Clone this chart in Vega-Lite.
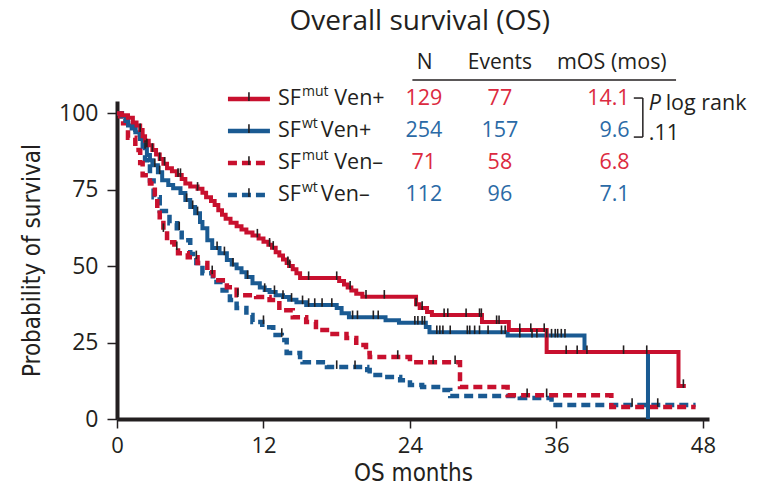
{
  "$schema": "https://vega.github.io/schema/vega-lite/v6.json",
  "width": 592,
  "height": 318,
  "autosize": {"type": "none"},
  "padding": {"left": 117, "top": 101, "right": 52, "bottom": 77},
  "background": "white",
  "config": {"view": {"stroke": null}, "font": "Open Sans"},
  "datasets": {
    "curves": [
      {"g":"mutVp","m":0,"p":100},{"g":"mutVp","m":0.4,"p":99.3},{"g":"mutVp","m":0.9,"p":98.5},{"g":"mutVp","m":1.3,"p":97},{"g":"mutVp","m":1.6,"p":96},{"g":"mutVp","m":1.9,"p":94.5},{"g":"mutVp","m":2.1,"p":92.5},{"g":"mutVp","m":2.3,"p":91},{"g":"mutVp","m":2.6,"p":89.5},{"g":"mutVp","m":2.9,"p":88},{"g":"mutVp","m":3.2,"p":86.5},{"g":"mutVp","m":3.5,"p":85},{"g":"mutVp","m":3.8,"p":83.5},{"g":"mutVp","m":4.1,"p":82},{"g":"mutVp","m":4.5,"p":81},{"g":"mutVp","m":4.9,"p":79.8},{"g":"mutVp","m":5.3,"p":78.5},{"g":"mutVp","m":5.6,"p":77},{"g":"mutVp","m":6.0,"p":76},{"g":"mutVp","m":6.6,"p":75.3},{"g":"mutVp","m":7.0,"p":74},{"g":"mutVp","m":7.3,"p":72.5},{"g":"mutVp","m":7.7,"p":71.3},{"g":"mutVp","m":8.0,"p":70},{"g":"mutVp","m":8.3,"p":68.3},{"g":"mutVp","m":8.6,"p":66.8},{"g":"mutVp","m":8.9,"p":65.5},{"g":"mutVp","m":9.3,"p":64.2},{"g":"mutVp","m":9.8,"p":63},{"g":"mutVp","m":10.2,"p":62},{"g":"mutVp","m":10.6,"p":61},{"g":"mutVp","m":11.1,"p":60},{"g":"mutVp","m":11.6,"p":59},{"g":"mutVp","m":12.0,"p":58},{"g":"mutVp","m":12.4,"p":57},{"g":"mutVp","m":12.7,"p":56},{"g":"mutVp","m":13.0,"p":54.5},{"g":"mutVp","m":13.3,"p":53.5},{"g":"mutVp","m":13.6,"p":52.2},{"g":"mutVp","m":13.9,"p":51},{"g":"mutVp","m":14.1,"p":50},{"g":"mutVp","m":14.4,"p":49},{"g":"mutVp","m":14.7,"p":47.7},{"g":"mutVp","m":15.0,"p":46.1},{"g":"mutVp","m":18.2,"p":45.1},{"g":"mutVp","m":18.6,"p":44},{"g":"mutVp","m":18.9,"p":43},{"g":"mutVp","m":19.2,"p":42},{"g":"mutVp","m":19.6,"p":41},{"g":"mutVp","m":20.1,"p":40},{"g":"mutVp","m":24.5,"p":37.5},{"g":"mutVp","m":24.8,"p":36.3},{"g":"mutVp","m":25.4,"p":35},{"g":"mutVp","m":25.8,"p":34},{"g":"mutVp","m":29.9,"p":31.7},{"g":"mutVp","m":32.1,"p":29.1},{"g":"mutVp","m":35.2,"p":21.9},{"g":"mutVp","m":46.0,"p":10.8},{"g":"mutVp","m":46.6,"p":10.8},
      {"g":"wtVp","m":0,"p":100},{"g":"wtVp","m":0.4,"p":99},{"g":"wtVp","m":0.7,"p":97.5},{"g":"wtVp","m":0.9,"p":96},{"g":"wtVp","m":1.2,"p":95},{"g":"wtVp","m":1.5,"p":93.8},{"g":"wtVp","m":1.9,"p":91.8},{"g":"wtVp","m":2.1,"p":89},{"g":"wtVp","m":2.45,"p":86.3},{"g":"wtVp","m":2.7,"p":84.6},{"g":"wtVp","m":2.9,"p":83},{"g":"wtVp","m":3.35,"p":80.7},{"g":"wtVp","m":3.7,"p":78.1},{"g":"wtVp","m":4.2,"p":76.5},{"g":"wtVp","m":4.6,"p":75.5},{"g":"wtVp","m":5.2,"p":73.9},{"g":"wtVp","m":5.6,"p":71.6},{"g":"wtVp","m":6.0,"p":69.3},{"g":"wtVp","m":6.4,"p":67.3},{"g":"wtVp","m":6.8,"p":64.4},{"g":"wtVp","m":7.0,"p":62.4},{"g":"wtVp","m":7.4,"p":58.5},{"g":"wtVp","m":7.8,"p":55.9},{"g":"wtVp","m":8.4,"p":54.2},{"g":"wtVp","m":9.0,"p":52},{"g":"wtVp","m":9.4,"p":50.5},{"g":"wtVp","m":9.8,"p":49.3},{"g":"wtVp","m":10.2,"p":48},{"g":"wtVp","m":10.6,"p":46.4},{"g":"wtVp","m":11.1,"p":44.4},{"g":"wtVp","m":11.7,"p":43},{"g":"wtVp","m":12.1,"p":42.2},{"g":"wtVp","m":12.5,"p":41.5},{"g":"wtVp","m":13.0,"p":40.5},{"g":"wtVp","m":13.6,"p":39.9},{"g":"wtVp","m":14.1,"p":39},{"g":"wtVp","m":14.7,"p":38.2},{"g":"wtVp","m":15.5,"p":37.3},{"g":"wtVp","m":18.0,"p":36.3},{"g":"wtVp","m":18.4,"p":34.6},{"g":"wtVp","m":19.0,"p":33.3},{"g":"wtVp","m":22.0,"p":32.3},{"g":"wtVp","m":23.1,"p":31.5},{"g":"wtVp","m":25.3,"p":30.1},{"g":"wtVp","m":25.6,"p":28.4},{"g":"wtVp","m":32.0,"p":27.3},{"g":"wtVp","m":38.3,"p":21.9},{"g":"wtVp","m":43.5,"p":0},
      {"g":"mutVm","m":0,"p":100},{"g":"mutVm","m":0.25,"p":99},{"g":"mutVm","m":0.5,"p":96.7},{"g":"mutVm","m":0.9,"p":92},{"g":"mutVm","m":1.5,"p":88},{"g":"mutVm","m":1.9,"p":83.7},{"g":"mutVm","m":2.1,"p":79.7},{"g":"mutVm","m":2.7,"p":77},{"g":"mutVm","m":3.1,"p":72.5},{"g":"mutVm","m":3.3,"p":68.3},{"g":"mutVm","m":3.5,"p":66},{"g":"mutVm","m":3.8,"p":61.8},{"g":"mutVm","m":4.1,"p":57.8},{"g":"mutVm","m":4.7,"p":55.9},{"g":"mutVm","m":5.0,"p":54.2},{"g":"mutVm","m":5.8,"p":52.9},{"g":"mutVm","m":6.6,"p":51},{"g":"mutVm","m":7.4,"p":48},{"g":"mutVm","m":7.9,"p":45.4},{"g":"mutVm","m":9.0,"p":43.1},{"g":"mutVm","m":9.8,"p":40.5},{"g":"mutVm","m":11.4,"p":39.9},{"g":"mutVm","m":12.5,"p":38.9},{"g":"mutVm","m":13.3,"p":35.6},{"g":"mutVm","m":14.4,"p":33.3},{"g":"mutVm","m":15.5,"p":31.7},{"g":"mutVm","m":16.3,"p":29.1},{"g":"mutVm","m":17.2,"p":27.8},{"g":"mutVm","m":18.8,"p":26.5},{"g":"mutVm","m":19.6,"p":24.2},{"g":"mutVm","m":20.4,"p":21.6},{"g":"mutVm","m":20.7,"p":20.3},{"g":"mutVm","m":24.0,"p":18.6},{"g":"mutVm","m":28.1,"p":10.5},{"g":"mutVm","m":32.0,"p":7.8},{"g":"mutVm","m":40.5,"p":3.9},{"g":"mutVm","m":47.4,"p":3.9},
      {"g":"wtVm","m":0,"p":100},{"g":"wtVm","m":0.4,"p":99},{"g":"wtVm","m":0.7,"p":97},{"g":"wtVm","m":0.9,"p":96},{"g":"wtVm","m":1.5,"p":93},{"g":"wtVm","m":1.9,"p":89.5},{"g":"wtVm","m":2.3,"p":84.6},{"g":"wtVm","m":2.7,"p":78},{"g":"wtVm","m":3.0,"p":72.5},{"g":"wtVm","m":3.5,"p":68},{"g":"wtVm","m":4.3,"p":64},{"g":"wtVm","m":4.9,"p":62.4},{"g":"wtVm","m":5.3,"p":58.5},{"g":"wtVm","m":6.0,"p":54},{"g":"wtVm","m":6.5,"p":51},{"g":"wtVm","m":7.0,"p":47.7},{"g":"wtVm","m":7.85,"p":44.8},{"g":"wtVm","m":8.65,"p":42},{"g":"wtVm","m":9.25,"p":38.9},{"g":"wtVm","m":9.8,"p":36.3},{"g":"wtVm","m":10.6,"p":34},{"g":"wtVm","m":11.1,"p":31.7},{"g":"wtVm","m":11.9,"p":30},{"g":"wtVm","m":12.8,"p":27.5},{"g":"wtVm","m":13.5,"p":25.8},{"g":"wtVm","m":13.9,"p":21.6},{"g":"wtVm","m":15.0,"p":20.3},{"g":"wtVm","m":15.2,"p":18.6},{"g":"wtVm","m":17.2,"p":17},{"g":"wtVm","m":20.5,"p":16},{"g":"wtVm","m":20.7,"p":14.4},{"g":"wtVm","m":21.8,"p":13.7},{"g":"wtVm","m":23.2,"p":12.7},{"g":"wtVm","m":24.0,"p":11.1},{"g":"wtVm","m":25.0,"p":10.5},{"g":"wtVm","m":26.3,"p":9.5},{"g":"wtVm","m":27.3,"p":7.5},{"g":"wtVm","m":33.0,"p":6.9},{"g":"wtVm","m":35.6,"p":4.6},{"g":"wtVm","m":47.4,"p":4.6}
    ],
    "censor": [
      {"g":"mutVp","m":1.9,"p":94.5},{"g":"mutVp","m":2.45,"p":89.5},{"g":"mutVp","m":2.9,"p":88},{"g":"mutVp","m":3.5,"p":85},{"g":"mutVp","m":3.9,"p":83.5},{"g":"mutVp","m":5.0,"p":79.8},{"g":"mutVp","m":5.2,"p":79.8},{"g":"mutVp","m":6.6,"p":75.3},{"g":"mutVp","m":11.5,"p":60},{"g":"mutVp","m":12.5,"p":57},{"g":"mutVp","m":12.8,"p":56},{"g":"mutVp","m":14.0,"p":51},{"g":"mutVp","m":14.15,"p":50},{"g":"mutVp","m":15.7,"p":46.1},{"g":"mutVp","m":18.0,"p":46.1},{"g":"mutVp","m":19.1,"p":43},{"g":"mutVp","m":20.4,"p":40},{"g":"mutVp","m":21.9,"p":40},{"g":"mutVp","m":24.5,"p":37.5},{"g":"mutVp","m":25.0,"p":36.3},{"g":"mutVp","m":26.8,"p":34},{"g":"mutVp","m":27.1,"p":34},{"g":"mutVp","m":28.6,"p":34},{"g":"mutVp","m":29.7,"p":34},{"g":"mutVp","m":29.85,"p":34},{"g":"mutVp","m":31.1,"p":31.7},{"g":"mutVp","m":31.3,"p":31.7},{"g":"mutVp","m":33.0,"p":29.1},{"g":"mutVp","m":33.9,"p":29.1},{"g":"mutVp","m":35.0,"p":29.1},{"g":"mutVp","m":36.8,"p":21.9},{"g":"mutVp","m":37.7,"p":21.9},{"g":"mutVp","m":41.5,"p":21.9},{"g":"mutVp","m":43.4,"p":21.9},{"g":"mutVp","m":46.4,"p":10.8},
      {"g":"wtVp","m":2.3,"p":89},{"g":"wtVp","m":3.1,"p":83},{"g":"wtVp","m":3.5,"p":80.7},{"g":"wtVp","m":5.7,"p":71.6},{"g":"wtVp","m":6.2,"p":69.3},{"g":"wtVp","m":6.6,"p":67.3},{"g":"wtVp","m":8.2,"p":55.9},{"g":"wtVp","m":8.8,"p":54.2},{"g":"wtVp","m":9.5,"p":50.5},{"g":"wtVp","m":10.7,"p":46.4},{"g":"wtVp","m":12.1,"p":42.2},{"g":"wtVp","m":12.9,"p":41.5},{"g":"wtVp","m":13.6,"p":39.9},{"g":"wtVp","m":14.3,"p":39},{"g":"wtVp","m":15.2,"p":38.2},{"g":"wtVp","m":15.7,"p":37.3},{"g":"wtVp","m":16.2,"p":37.3},{"g":"wtVp","m":16.8,"p":37.3},{"g":"wtVp","m":17.6,"p":37.3},{"g":"wtVp","m":19.3,"p":33.3},{"g":"wtVp","m":19.7,"p":33.3},{"g":"wtVp","m":21.0,"p":33.3},{"g":"wtVp","m":21.4,"p":33.3},{"g":"wtVp","m":24.4,"p":31.5},{"g":"wtVp","m":24.65,"p":31.5},{"g":"wtVp","m":25.0,"p":31.5},{"g":"wtVp","m":25.2,"p":31.5},{"g":"wtVp","m":26.2,"p":28.4},{"g":"wtVp","m":26.45,"p":28.4},{"g":"wtVp","m":26.7,"p":28.4},{"g":"wtVp","m":27.3,"p":28.4},{"g":"wtVp","m":28.7,"p":28.4},{"g":"wtVp","m":28.9,"p":28.4},{"g":"wtVp","m":29.3,"p":28.4},{"g":"wtVp","m":29.7,"p":28.4},{"g":"wtVp","m":30.4,"p":28.4},{"g":"wtVp","m":31.5,"p":28.4},{"g":"wtVp","m":31.8,"p":28.4},{"g":"wtVp","m":33.0,"p":27.3},{"g":"wtVp","m":34.0,"p":27.3},{"g":"wtVp","m":34.4,"p":27.3},{"g":"wtVp","m":35.2,"p":27.3},{"g":"wtVp","m":35.6,"p":27.3},{"g":"wtVp","m":35.9,"p":27.3},{"g":"wtVp","m":36.1,"p":27.3},{"g":"wtVp","m":36.4,"p":27.3},{"g":"wtVp","m":36.7,"p":27.3},{"g":"wtVp","m":38.5,"p":21.9},
      {"g":"mutVm","m":3.8,"p":61.8},{"g":"mutVm","m":4.9,"p":55.9},{"g":"mutVm","m":6.5,"p":52.9},{"g":"mutVm","m":7.8,"p":48},{"g":"mutVm","m":9.9,"p":40.5},{"g":"mutVm","m":23.0,"p":20.3},{"g":"mutVm","m":25.9,"p":18.6},{"g":"mutVm","m":27.7,"p":18.6},{"g":"mutVm","m":33.6,"p":7.8},{"g":"mutVm","m":35.2,"p":7.8},
      {"g":"wtVm","m":5.1,"p":62.4},{"g":"wtVm","m":12.0,"p":31.7},{"g":"wtVm","m":13.5,"p":27.5},{"g":"wtVm","m":18.0,"p":17},{"g":"wtVm","m":19.5,"p":17},{"g":"wtVm","m":42.2,"p":4.6},{"g":"wtVm","m":44.3,"p":4.6}
    ],
    "legend": [
      {"row":1,"g":"mutVp","sup":"mut","trt":"Ven+","n":129,"ev":77,"mos":"14.1"},
      {"row":2,"g":"wtVp","sup":"wt","trt":"Ven+","n":254,"ev":157,"mos":"9.6"},
      {"row":3,"g":"mutVm","sup":"mut","trt":"Ven–","n":71,"ev":58,"mos":"6.8"},
      {"row":4,"g":"wtVm","sup":"wt","trt":"Ven–","n":112,"ev":96,"mos":"7.1"}
    ],
    "one": [{}]
  },
  "layer": [
    {
      "data": {"name": "curves"},
      "layer": [
        {
          "transform": [{"filter": "datum.g === 'wtVm'"}],
          "mark": {"type": "line", "interpolate": "step-after", "strokeWidth": 4.5, "strokeCap": "butt"},
          "encoding": {
            "x": {"field": "m", "type": "quantitative", "scale": {"domain": [0, 48.5], "nice": false},
              "axis": {"values": [0, 12, 24, 36, 48], "title": "OS months", "grid": false, "labelFlush": false, "domainColor": "#231f20", "domainWidth": 4, "tickColor": "#231f20", "tickWidth": 1.5, "tickSize": 9, "labelFontSize": 22, "labelPadding": 7, "labelColor": "#231f20", "titleFont": "DejaVu Sans Condensed, Roboto", "titleFontSize": 24, "titleFontWeight": "normal", "titleColor": "#231f20", "titlePadding": 5}},
            "y": {"field": "p", "type": "quantitative", "scale": {"domain": [0, 104], "nice": false},
              "axis": {"values": [0, 25, 50, 75, 100], "title": "Probability of survival", "grid": false, "labelFlush": false, "domainColor": "#231f20", "domainWidth": 4, "tickColor": "#231f20", "tickWidth": 1.5, "tickSize": 10, "labelFontSize": 23, "labelPadding": 9, "labelColor": "#231f20", "titleFont": "DejaVu Sans Condensed, Roboto", "titleFontSize": 24, "titleFontWeight": "normal", "titleColor": "#231f20", "titlePadding": 14}},
            "stroke": {"field": "g", "type": "nominal", "scale": {"domain": ["mutVp", "wtVp", "mutVm", "wtVm"], "range": ["#c8102e", "#1a5a92", "#c8102e", "#1a5a92"]}, "legend": null},
            "strokeDash": {"field": "g", "type": "nominal", "scale": {"domain": ["mutVp", "wtVp", "mutVm", "wtVm"], "range": [[1, 0], [1, 0], [9, 5], [9, 5]]}, "legend": null}
          }
        },
        {
          "transform": [{"filter": "datum.g === 'mutVm'"}],
          "mark": {"type": "line", "interpolate": "step-after", "strokeWidth": 4.5, "strokeCap": "butt"},
          "encoding": {
            "x": {"field": "m", "type": "quantitative"},
            "y": {"field": "p", "type": "quantitative"},
            "stroke": {"field": "g", "type": "nominal", "legend": null},
            "strokeDash": {"field": "g", "type": "nominal", "legend": null}
          }
        },
        {
          "transform": [{"filter": "datum.g === 'wtVp'"}],
          "mark": {"type": "line", "interpolate": "step-after", "strokeWidth": 4, "strokeCap": "butt"},
          "encoding": {
            "x": {"field": "m", "type": "quantitative"},
            "y": {"field": "p", "type": "quantitative"},
            "stroke": {"field": "g", "type": "nominal", "legend": null},
            "strokeDash": {"field": "g", "type": "nominal", "legend": null}
          }
        },
        {
          "transform": [{"filter": "datum.g === 'mutVp'"}],
          "mark": {"type": "line", "interpolate": "step-after", "strokeWidth": 4, "strokeCap": "butt"},
          "encoding": {
            "x": {"field": "m", "type": "quantitative"},
            "y": {"field": "p", "type": "quantitative"},
            "stroke": {"field": "g", "type": "nominal", "legend": null},
            "strokeDash": {"field": "g", "type": "nominal", "legend": null}
          }
        },
        {
          "data": {"name": "censor"},
          "mark": {"type": "point", "shape": "M0,-1.4V0.4", "filled": false, "stroke": "#231f20", "strokeWidth": 1.6, "size": 90, "opacity": 1},
          "encoding": {
            "x": {"field": "m", "type": "quantitative"},
            "y": {"field": "p", "type": "quantitative"}
          }
        }
      ]
    },
    {
      "data": {"name": "legend"},
      "layer": [
        {
          "data": {"name": "one"},
          "mark": {"type": "text", "text": "Overall survival (OS)", "align": "center", "baseline": "middle", "fontSize": 28, "fill": "#231f20"},
          "encoding": {
            "x": {"datum": 24.8, "type": "quantitative"},
            "y": {"datum": -1.41, "type": "quantitative", "scale": {"domain": [1.0625, 11], "reverse": true, "nice": false, "zero": false}, "axis": null}
          }
        },
        {
          "data": {"name": "one"},
          "mark": {"type": "text", "text": "N", "align": "center", "baseline": "middle", "fontSize": 21, "fill": "#231f20"},
          "encoding": {"x": {"datum": 25.2, "type": "quantitative"}, "y": {"datum": -0.11, "type": "quantitative", "axis": null}}
        },
        {
          "data": {"name": "one"},
          "mark": {"type": "text", "text": "Events", "align": "center", "baseline": "middle", "fontSize": 21, "fill": "#231f20"},
          "encoding": {"x": {"datum": 31.37, "type": "quantitative"}, "y": {"datum": -0.11, "type": "quantitative", "axis": null}}
        },
        {
          "data": {"name": "one"},
          "mark": {"type": "text", "text": "mOS (mos)", "align": "center", "baseline": "middle", "fontSize": 21.5, "fill": "#231f20"},
          "encoding": {"x": {"datum": 40.54, "type": "quantitative"}, "y": {"datum": -0.11, "type": "quantitative", "axis": null}}
        },
        {
          "data": {"name": "one"},
          "mark": {"type": "rule", "stroke": "#231f20", "strokeWidth": 1.5},
          "encoding": {"x": {"datum": 24.2, "type": "quantitative"}, "x2": {"datum": 45.8}, "y": {"datum": 0.41, "type": "quantitative", "axis": null}}
        },
        {
          "mark": {"type": "rule", "strokeWidth": 4.5, "strokeCap": "butt"},
          "encoding": {
            "x": {"datum": 9.09, "type": "quantitative"}, "x2": {"datum": 12.53},
            "y": {"field": "row", "type": "quantitative", "axis": null},
            "stroke": {"field": "g", "type": "nominal", "legend": null},
            "strokeDash": {"field": "g", "type": "nominal", "legend": null}
          }
        },
        {
          "mark": {"type": "point", "shape": "M0,-1.4V0.4", "filled": false, "stroke": "#231f20", "strokeWidth": 1.6, "size": 90, "opacity": 1},
          "encoding": {"x": {"datum": 10.81, "type": "quantitative"}, "y": {"field": "row", "type": "quantitative", "axis": null}}
        },
        {
          "mark": {"type": "text", "text": "SF", "align": "left", "baseline": "middle", "fontSize": 21.5, "fill": "#231f20"},
          "encoding": {"x": {"datum": 13.19, "type": "quantitative"}, "y": {"field": "row", "type": "quantitative", "axis": null}}
        },
        {
          "mark": {"type": "text", "align": "left", "baseline": "middle", "fontSize": 14, "dy": -7, "fill": "#231f20"},
          "encoding": {"x": {"datum": 15.15, "type": "quantitative"}, "y": {"field": "row", "type": "quantitative", "axis": null}, "text": {"field": "sup"}}
        },
        {
          "transform": [{"filter": "datum.sup === 'mut'"}],
          "mark": {"type": "text", "align": "left", "baseline": "middle", "fontSize": 21.5, "fill": "#231f20"},
          "encoding": {"x": {"datum": 17.8, "type": "quantitative"}, "y": {"field": "row", "type": "quantitative", "axis": null}, "text": {"field": "trt"}}
        },
        {
          "transform": [{"filter": "datum.sup === 'wt'"}],
          "mark": {"type": "text", "align": "left", "baseline": "middle", "fontSize": 21.5, "fill": "#231f20"},
          "encoding": {"x": {"datum": 16.7, "type": "quantitative"}, "y": {"field": "row", "type": "quantitative", "axis": null}, "text": {"field": "trt"}}
        },
        {
          "mark": {"type": "text", "align": "center", "baseline": "middle", "fontSize": 21.5},
          "encoding": {"x": {"datum": 25.14, "type": "quantitative"}, "y": {"field": "row", "type": "quantitative", "axis": null}, "text": {"field": "n"},
            "fill": {"field": "g", "type": "nominal", "scale": {"domain": ["mutVp", "wtVp", "mutVm", "wtVm"], "range": ["#dc2a40", "#2b6aa6", "#dc2a40", "#2b6aa6"]}, "legend": null}}
        },
        {
          "mark": {"type": "text", "align": "center", "baseline": "middle", "fontSize": 21.5},
          "encoding": {"x": {"datum": 31.37, "type": "quantitative"}, "y": {"field": "row", "type": "quantitative", "axis": null}, "text": {"field": "ev"},
            "fill": {"field": "g", "type": "nominal", "legend": null}}
        },
        {
          "mark": {"type": "text", "align": "right", "baseline": "middle", "fontSize": 21.5},
          "encoding": {"x": {"datum": 42.0, "type": "quantitative"}, "y": {"field": "row", "type": "quantitative", "axis": null}, "text": {"field": "mos"},
            "fill": {"field": "g", "type": "nominal", "legend": null}}
        },
        {
          "data": {"name": "one"},
          "mark": {"type": "rule", "stroke": "#231f20", "strokeWidth": 1.5},
          "encoding": {"x": {"datum": 42.34, "type": "quantitative"}, "x2": {"datum": 43.08}, "y": {"datum": 0.97, "type": "quantitative", "axis": null}}
        },
        {
          "data": {"name": "one"},
          "mark": {"type": "rule", "stroke": "#231f20", "strokeWidth": 1.5},
          "encoding": {"x": {"datum": 42.34, "type": "quantitative"}, "x2": {"datum": 43.08}, "y": {"datum": 2.19, "type": "quantitative", "axis": null}}
        },
        {
          "data": {"name": "one"},
          "mark": {"type": "rule", "stroke": "#231f20", "strokeWidth": 1.5},
          "encoding": {"x": {"datum": 43.08, "type": "quantitative"}, "y": {"datum": 0.97, "type": "quantitative", "axis": null}, "y2": {"datum": 2.19}}
        },
        {
          "data": {"name": "one"},
          "mark": {"type": "text", "text": "P", "align": "left", "baseline": "middle", "fontSize": 21.5, "fontStyle": "italic", "fill": "#231f20"},
          "encoding": {"x": {"datum": 43.57, "type": "quantitative"}, "y": {"datum": 1.16, "type": "quantitative", "axis": null}}
        },
        {
          "data": {"name": "one"},
          "mark": {"type": "text", "text": "log rank", "align": "left", "baseline": "middle", "fontSize": 21.5, "fill": "#231f20"},
          "encoding": {"x": {"datum": 44.95, "type": "quantitative"}, "y": {"datum": 1.16, "type": "quantitative", "axis": null}}
        },
        {
          "data": {"name": "one"},
          "mark": {"type": "text", "text": ".11", "align": "left", "baseline": "middle", "fontSize": 21.5, "fill": "#231f20"},
          "encoding": {"x": {"datum": 43.57, "type": "quantitative"}, "y": {"datum": 2.08, "type": "quantitative", "axis": null}}
        }
      ]
    }
  ],
  "resolve": {"scale": {"y": "independent"}}
}
